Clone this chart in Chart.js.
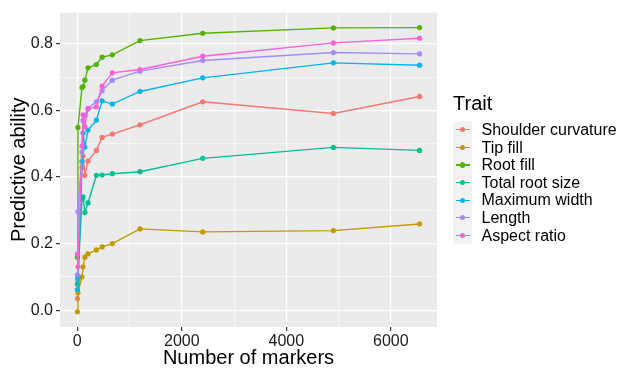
<!DOCTYPE html>
<html>
<head>
<meta charset="utf-8">
<script src="https://cdn.jsdelivr.net/npm/chart.js@4.4.0/dist/chart.umd.min.js"></script>
<style>
  body { margin: 0; background: #fff; font-family: "Liberation Sans", Arial, sans-serif; }
  #wrap { position: relative; width: 621px; height: 368px; }
  #legend { position: absolute; left: 453px; top: 90px; color: #000; }
  #legend .title { font-size: 20px; height: 31px; line-height: 26px; }
  #legend .row { position: relative; height: 17.6px; }
  #legend .key { position: absolute; left: 0; top: 0; width: 18.5px; height: 17.6px; background: #F2F2F2; }
  #legend .key .ln { position: absolute; left: 3px; right: 2px; top: 8.2px; height: 1.3px; }
  #legend .key .dt { position: absolute; left: 6.8px; top: 6.3px; width: 5.2px; height: 5.2px; border-radius: 50%; }
  #legend .lab { position: absolute; left: 28.5px; top: 0; font-size: 16px; line-height: 17.6px; white-space: nowrap; }
</style>
</head>
<body>
<div id="wrap">
  <canvas id="lineChart" width="621" height="368"></canvas>
  <div id="legend"></div>
</div>
<script>
const markers = [2, 12, 90, 110, 145, 205, 365, 475, 670, 1200, 2400, 4900, 6550];

const traits = ['Shoulder curvature', 'Tip fill', 'Root fill', 'Total root size',
                'Maximum width', 'Length', 'Aspect ratio'];
const colors = ['#F8766D', '#C49A00', '#53B400', '#00C094', '#00B6EB', '#A58AFF', '#FB61D7'];

const shoulderCurvature = [0.035, 0.09, 0.428, 0.463, 0.405, 0.448, 0.48, 0.519, 0.529, 0.557, 0.626, 0.591, 0.642];
const tipFill           = [-0.005, 0.052, 0.10, 0.13, 0.159, 0.169, 0.181, 0.19, 0.2, 0.244, 0.235, 0.239, 0.259];
const rootFill          = [0.159, 0.549, 0.669, 0.672, 0.691, 0.728, 0.738, 0.76, 0.767, 0.81, 0.832, 0.848, 0.849];
const totalRootSize     = [0.078, 0.1, 0.333, 0.34, 0.293, 0.322, 0.405, 0.406, 0.41, 0.416, 0.456, 0.489, 0.48];
const maximumWidth      = [0.062, 0.095, 0.447, 0.532, 0.49, 0.541, 0.571, 0.629, 0.619, 0.657, 0.698, 0.743, 0.736];
const lengthVals        = [0.106, 0.296, 0.475, 0.57, 0.585, 0.606, 0.626, 0.659, 0.691, 0.718, 0.75, 0.774, 0.77];
const aspectRatio       = [0.169, 0.13, 0.493, 0.587, 0.552, 0.604, 0.611, 0.673, 0.713, 0.723, 0.763, 0.803, 0.817];

const xTicks = [0, 1000, 2000, 3000, 4000, 5000, 6000];
const yTicks = [0, 0.1, 0.2, 0.3, 0.4, 0.5, 0.6, 0.7, 0.8];

const seriesValues = [shoulderCurvature, tipFill, rootFill, totalRootSize, maximumWidth, lengthVals, aspectRatio];

const datasets = traits.map((name, i) => ({
    label: name,
    data: markers.map((m, j) => ({ x: m, y: seriesValues[i][j] })),
    borderColor: colors[i],
    backgroundColor: colors[i],
    borderWidth: 1.4,
    pointRadius: 2.6,
    pointBorderWidth: 0,
    showLine: true,
    tension: 0,
    order: traits.length - i
}));

// grey panel like ggplot
const panelBg = {
    id: 'panelBg',
    beforeDraw(chart) {
        const { ctx, chartArea: a } = chart;
        ctx.save();
        ctx.fillStyle = '#EBEBEB';
        ctx.fillRect(a.left, a.top, a.right - a.left, a.bottom - a.top);
        ctx.restore();
    }
};

const isMajorX = v => Math.round(v) % 2000 === 0;
const isMajorY = v => Math.round(v * 10) % 2 === 0;
const font16 = { family: '"Liberation Sans", Arial, sans-serif', size: 16 };
const font20 = { family: '"Liberation Sans", Arial, sans-serif', size: 20 };

const ctx = document.getElementById('lineChart').getContext('2d');
new Chart(ctx, {
    type: 'scatter',
    data: { datasets: datasets },
    plugins: [panelBg],
    options: {
        responsive: false,
        animation: false,
        layout: { padding: { left: 0, right: 184, top: 10, bottom: 0 } },
        plugins: { legend: { display: false }, tooltip: { enabled: false } },
        scales: {
            x: {
                type: 'linear',
                min: -331,
                max: 6883,
                afterBuildTicks: s => { s.ticks = xTicks.map(v => ({ value: v })); },
                afterFit: s => { s.height = 41; },
                border: { display: false },
                grid: {
                    color: '#FFFFFF',
                    lineWidth: c => (c.tick && isMajorX(c.tick.value)) ? 1.2 : 0.6,
                    tickColor: c => (c.tick && isMajorX(c.tick.value)) ? '#333333' : 'rgba(0,0,0,0)',
                    tickLength: 4
                },
                ticks: {
                    autoSkip: false,
                    maxRotation: 0,
                    padding: 1,
                    color: '#1A1A1A',
                    font: font16,
                    callback: v => isMajorX(v) ? String(v) : ''
                },
                title: {
                    display: true,
                    text: 'Number of markers',
                    color: '#000',
                    padding: { top: 0, bottom: -2 },
                    font: font20
                }
            },
            y: {
                type: 'linear',
                min: -0.0507,
                max: 0.894,
                afterBuildTicks: s => { s.ticks = yTicks.map(v => ({ value: v })); },
                afterFit: s => { s.width = 60; },
                border: { display: false },
                grid: {
                    color: '#FFFFFF',
                    lineWidth: c => (c.tick && isMajorY(c.tick.value)) ? 1.2 : 0.6,
                    tickColor: c => (c.tick && isMajorY(c.tick.value)) ? '#333333' : 'rgba(0,0,0,0)',
                    tickLength: 4
                },
                ticks: {
                    autoSkip: false,
                    padding: 3,
                    color: '#1A1A1A',
                    font: font16,
                    callback: v => isMajorY(v) ? v.toFixed(1) : ''
                },
                title: {
                    display: true,
                    text: 'Predictive ability',
                    color: '#000',
                    padding: { top: 7, bottom: 0 },
                    font: font20
                }
            }
        }
    }
});

// legend as html
const legend = document.getElementById('legend');
let html = '<div class="title">Trait</div>';
traits.forEach((name, i) => {
    html += '<div class="row"><div class="key"><div class="ln" style="background:' + colors[i] +
            '"></div><div class="dt" style="background:' + colors[i] + '"></div></div>' +
            '<div class="lab">' + name + '</div></div>';
});
legend.innerHTML = html;
</script>
</body>
</html>
